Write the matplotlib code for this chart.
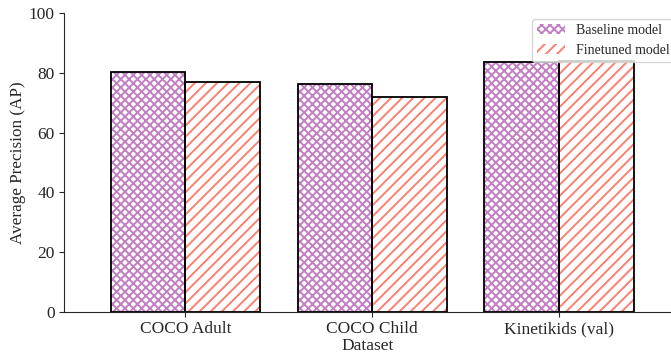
import matplotlib
matplotlib.use("Agg")
import matplotlib.pyplot as plt
import seaborn as sns
import numpy as np

datasets = ["COCO Adult", "COCO Child", "Kinetikids (val)"]
baseline = [80.3, 76.3, 83.6]
finetuned = [77.0, 72.1, 83.9]
series_labels = ["Baseline model", "Finetuned model"]

sns.set_style("ticks")
plt.rcParams["font.family"] = ["Liberation Serif", "DejaVu Serif"]
plt.rcParams["hatch.linewidth"] = 1.4

DPI = 100
fig = plt.figure(figsize=(671 / DPI, 356 / DPI), dpi=DPI)
ax = fig.add_axes([0.095, 0.124, 0.905, 0.839])

x = np.arange(len(datasets))
w = 0.4
ax.bar(x - w / 2, baseline, w, facecolor="white", edgecolor="#c27fc2",
       hatch="xxxx", linewidth=0, label=series_labels[0])
ax.bar(x + w / 2, finetuned, w, facecolor="white", edgecolor="#fa8072",
       hatch="///", linewidth=0, label=series_labels[1])
# black outlines drawn on top of the hatched fills
ax.bar(x - w / 2, baseline, w, facecolor="none", edgecolor="black", linewidth=1.3)
ax.bar(x + w / 2, finetuned, w, facecolor="none", edgecolor="black", linewidth=1.3)

ax.set_xlim(-0.652, 2.6)
ax.set_ylim(0, 100)
ax.set_xticks(x)
ax.set_xticklabels(datasets)
ax.set_yticks(np.arange(0, 101, 20))
ax.tick_params(labelsize=12.5, length=3.6, width=0.8, pad=3)
for s in ax.spines.values():
    s.set_linewidth(0.8)
ax.set_xlabel("Dataset", fontsize=12.5, labelpad=1)
ax.set_ylabel("Average Precision (AP)", fontsize=12.3, labelpad=2)
sns.despine(ax=ax)
ax.legend(loc="upper left", fontsize=10, frameon=True, borderaxespad=0,
          bbox_to_anchor=(532 / 671, 1 - 19 / 356), bbox_transform=fig.transFigure,
          borderpad=0.35, handletextpad=0.8)

fig.savefig("out.png", dpi=DPI)
